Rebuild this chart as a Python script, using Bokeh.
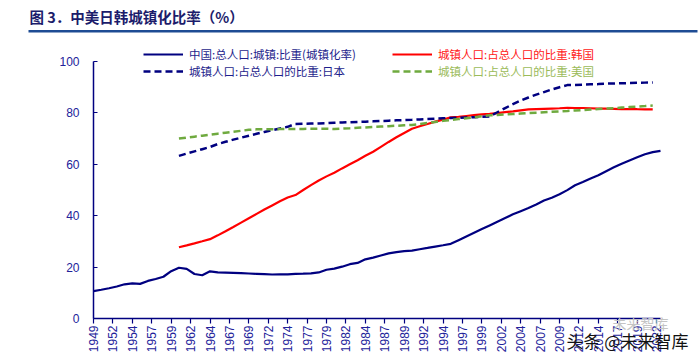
from bokeh.plotting import figure
from bokeh.models import (Legend, LegendItem, Label, FixedTicker, BoxAnnotation,
                          Range1d, CustomJSTickFormatter)
from bokeh.embed import file_html
from bokeh.resources import INLINE

# ---------------- data ----------------
china_years = list(range(1949, 2023))
china = [10.64, 11.18, 11.78, 12.46, 13.31, 13.69, 13.48, 14.62, 15.39, 16.25,
         18.41, 19.75, 19.29, 17.33, 16.84, 18.37, 17.98, 17.86, 17.74, 17.62,
         17.50, 17.38, 17.26, 17.13, 17.20, 17.16, 17.34, 17.44, 17.55, 17.92,
         18.96, 19.39, 20.16, 21.13, 21.62, 23.01, 23.71, 24.52, 25.32, 25.81,
         26.21, 26.41, 26.94, 27.46, 27.99, 28.51, 29.04, 30.48, 31.91, 33.35,
         34.78, 36.22, 37.66, 39.09, 40.53, 41.76, 42.99, 44.34, 45.89, 46.99,
         48.34, 49.95, 51.83, 53.10, 54.49, 55.75, 57.33, 58.84, 60.24, 61.50,
         62.71, 63.89, 64.72, 65.22]

other_years = list(range(1960, 2022))
korea = [27.71, 28.47, 29.25, 30.05, 30.87, 32.35, 33.95, 35.60, 37.30, 39.00,
         40.70, 42.40, 44.00, 45.60, 47.10, 48.03, 50.00, 51.90, 53.70, 55.30,
         56.72, 58.40, 60.00, 61.60, 63.30, 64.88, 66.80, 68.70, 70.50, 72.20,
         73.84, 74.80, 75.70, 76.60, 77.40, 78.24, 78.50, 78.80, 79.10, 79.40,
         79.62, 79.90, 80.30, 80.60, 81.00, 81.35, 81.50, 81.60, 81.70, 81.80,
         81.94, 81.90, 81.90, 81.80, 81.70, 81.63, 81.60, 81.50, 81.46, 81.43,
         81.41, 81.41]
japan = [63.27, 64.16, 65.03, 65.88, 66.73, 67.87, 68.75, 69.60, 70.37, 71.13,
         71.88, 72.60, 73.28, 73.95, 74.59, 75.72, 75.80, 75.86, 75.92, 76.00,
         76.18, 76.28, 76.38, 76.48, 76.58, 76.71, 76.84, 76.97, 77.10, 77.23,
         77.34, 77.47, 77.60, 77.74, 77.88, 78.02, 78.13, 78.24, 78.34, 78.45,
         78.65, 80.26, 81.85, 83.40, 84.80, 86.00, 87.10, 88.10, 89.10, 90.00,
         90.81, 90.90, 91.00, 91.10, 91.20, 91.38, 91.46, 91.54, 91.62, 91.70,
         91.78, 91.87]
usa = [70.00, 70.38, 70.76, 71.14, 71.52, 71.90, 72.28, 72.66, 73.04, 73.42,
       73.60, 73.63, 73.66, 73.69, 73.72, 73.75, 73.78, 73.81, 73.84, 73.87,
       73.74, 73.90, 74.05, 74.21, 74.36, 74.52, 74.68, 74.84, 75.00, 75.15,
       75.30, 75.70, 76.10, 76.50, 76.90, 77.26, 77.60, 77.90, 78.30, 78.70,
       79.06, 79.23, 79.41, 79.58, 79.76, 79.93, 80.10, 80.27, 80.44, 80.61,
       80.77, 80.94, 81.12, 81.30, 81.48, 81.67, 81.86, 82.06, 82.26, 82.46,
       82.66, 82.87]

x_tick_labels = ["1949", "1952", "1954", "1957", "1959", "1962", "1964", "1967",
                 "1969", "1972", "1974", "1977", "1979", "1982", "1984", "1987",
                 "1989", "1992", "1994", "1997", "1999", "2002", "2004", "2007",
                 "2009", "2012", "2014", "2017", "2019", "2022"]
y_ticks = [0, 20, 40, 60, 80, 100]

name_china = "中国:总人口:城镇:比重(城镇化率)"
name_korea = "城镇人口:占总人口的比重:韩国"
name_japan = "城镇人口:占总人口的比重:日本"
name_usa = "城镇人口:占总人口的比重:美国"
title_text = "图 3．中美日韩城镇化比率（%）"

# ---------------- layout constants ----------------
W, H = 700, 356
AX_L, AX_R, AX_T, AX_B = 93, 660, 61, 318      # pixel box of the axes
X0, X1, Y0, Y1 = 1949, 2022, 0, 100
pxx = (AX_R - AX_L) / (X1 - X0)
pxy = (AX_B - AX_T) / (Y1 - Y0)

CJK = "Noto Sans CJK SC"
NAVY = "#000080"
RED = "#FF0000"
GREEN = "#6FAA3F"

p = figure(width=W, height=H, output_backend="svg", toolbar_location=None,
           x_range=Range1d(X0 - AX_L / pxx, X1 + (W - AX_R) / pxx),
           y_range=Range1d(Y0 - (H - AX_B) / pxy, Y1 + AX_T / pxy),
           min_border_left=0, min_border_right=0, min_border_top=0,
           min_border_bottom=0)
p.outline_line_color = None
p.xgrid.visible = False
p.ygrid.visible = False
p.background_fill_color = "white"

r_china = p.line(china_years, china, line_color=NAVY, line_width=2.2)
r_korea = p.line(other_years, korea, line_color=RED, line_width=2.2)
r_japan = p.line(other_years, japan, line_color=NAVY, line_width=2.5, line_dash="7 4")
r_usa = p.line(other_years, usa, line_color=GREEN, line_width=2.5, line_dash="7 4")

# axes (default axes, drawn at fixed positions inside the canvas)
tick_pos = [X0 + 2.5 * k for k in range(len(x_tick_labels))]
p.xaxis.ticker = FixedTicker(ticks=tick_pos)
p.xaxis.formatter = CustomJSTickFormatter(args=dict(labels=x_tick_labels), code="""
    const i = Math.round((tick - 1949) / 2.5);
    return labels[i];
""")
p.xaxis.major_label_orientation = 1.5707963
p.xaxis.fixed_location = Y0
p.xaxis.bounds = (X0, X1)
p.yaxis.ticker = FixedTicker(ticks=y_ticks)
p.yaxis.fixed_location = X0
p.yaxis.bounds = (Y0, Y1)
for ax in (p.xaxis, p.yaxis):
    ax.axis_line_color = NAVY
    ax.axis_line_width = 1.5
    ax.major_tick_line_color = NAVY
    ax.major_tick_line_width = 1.2
    ax.minor_tick_line_color = None
    ax.major_label_text_color = "#22229A"
    ax.major_label_text_font = "Liberation Sans"
    ax.major_label_text_font_size = "12px"
p.xaxis.major_tick_in = 0
p.xaxis.major_tick_out = 5
p.xaxis.major_label_standoff = 2
p.yaxis.major_tick_in = 4
p.yaxis.major_tick_out = 0
p.yaxis.major_label_standoff = 14

# legends (one per item so every label gets its own colour)
def add_legend(label, rend, color, x, y):
    lg = Legend(items=[LegendItem(label=label, renderers=[rend])],
                location=(x, y), glyph_width=40, glyph_height=14,
                label_height=14, label_standoff=6, padding=0, margin=0,
                spacing=0, border_line_color=None, background_fill_alpha=0,
                label_text_font=CJK, label_text_font_size="11.5px",
                label_text_color=color)
    p.add_layout(lg, "center")

add_legend(name_china, r_china, "#1E1E8C", 143, H - 62)
add_legend(name_japan, r_japan, "#1E1E8C", 143, H - 79)
add_legend(name_korea, r_korea, "#FF2020", 392, H - 62)
add_legend(name_usa, r_usa, "#9BBB59", 392, H - 79)

# title and rule
p.add_layout(Label(x=29, y=H - 16, x_units="screen", y_units="screen",
                   text=title_text, text_font=CJK, text_font_size="14.5px",
                   text_font_style="bold", text_color="#1C1C6B",
                   text_baseline="middle"))
p.add_layout(BoxAnnotation(left=28, right=697, top=H - 29.5, bottom=H - 32,
                           left_units="screen", right_units="screen",
                           top_units="screen", bottom_units="screen",
                           fill_color="#1E4C94", fill_alpha=1.0,
                           line_color=None))

# watermark
p.add_layout(Label(x=612, y=H - 322, x_units="screen", y_units="screen",
                   text="未来智库", text_font=CJK, text_font_size="14px",
                   text_color="#C4C4C4", text_baseline="middle"))
p.add_layout(Label(x=566, y=H - 340, x_units="screen", y_units="screen",
                   text="头条 @未来智库", text_font=CJK, text_font_size="17px",
                   text_color="#111111", text_baseline="middle"))

open("out.html", "w").write(file_html(p, INLINE))
